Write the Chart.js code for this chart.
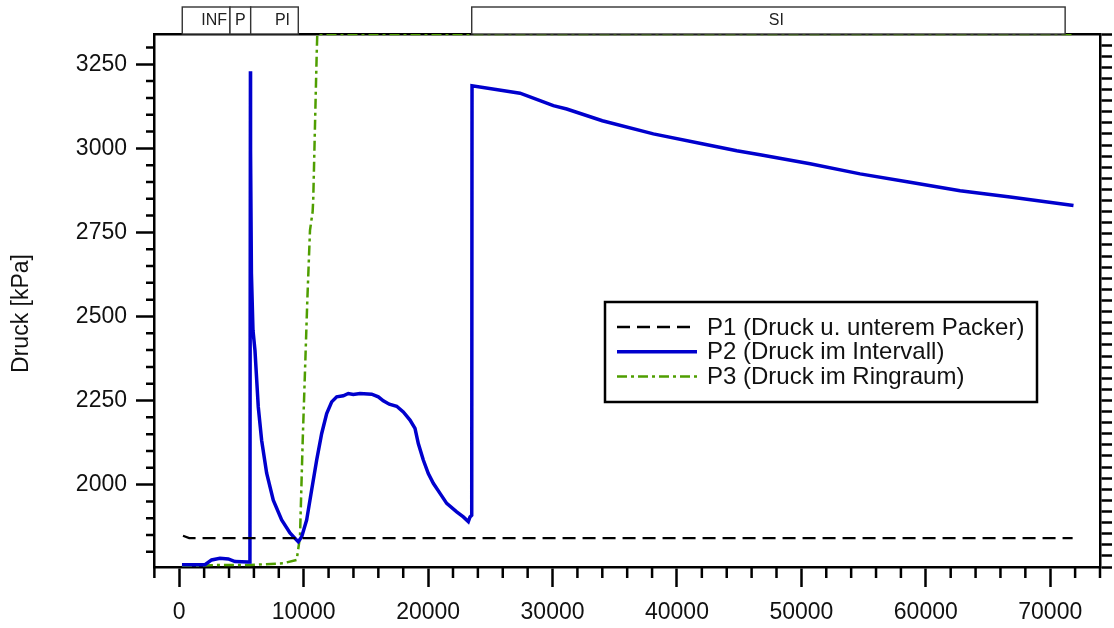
<!DOCTYPE html>
<html>
<head>
<meta charset="utf-8">
<script src="https://cdn.jsdelivr.net/npm/chart.js@4"></script>
<style>
  html, body { margin: 0; padding: 0; background: #fff; }
</style>
</head>
<body>
<canvas id="druckChart" width="1114" height="628"></canvas>
<script>
// Druckverlauf Packertest: P1, P2, P3 ueber der Zeit [s]

const p1Time = [300, 800, 71800];
const p1Druck = [1848, 1841, 1841];

const p2Time = [217, 2066, 2600, 3270, 3940, 4480, 5550, 5680, 5720, 5730, 5800, 5925, 6085, 6350,
  6620, 7025, 7556, 8231, 8899, 9437, 9566, 9840, 10240, 10640, 11045, 11447, 11849, 12250,
  12653, 13183, 13585, 13987, 14526, 15466, 15997, 16399, 16881, 17476, 18006, 18545, 18947,
  19212, 19614, 20016, 20418, 20957, 21495, 22299, 22830, 23232, 23368, 23505, 23530, 27387,
  28995, 30064, 31141, 34000, 38103, 42122, 44807, 46680, 50700, 54719, 58738, 62757, 66777, 71870];
const p2Druck = [1762, 1762, 1776, 1781, 1779, 1771, 1770, 1770, 3229, 2993, 2628, 2459, 2399, 2231,
  2132, 2034, 1954, 1895, 1856, 1835, 1830, 1845, 1895, 1984, 2073, 2152, 2211, 2246,
  2261, 2264, 2271, 2268, 2271, 2269, 2261, 2249, 2239, 2233, 2216, 2192, 2167,
  2122, 2073, 2033, 2004, 1974, 1944, 1919, 1904, 1890, 1904, 1909, 3186, 3164,
  3142, 3127, 3117, 3082, 3043, 3013, 2993, 2981, 2954, 2924, 2899, 2874, 2855, 2830];

const p3Time = [217, 3000, 5680, 8350, 9437, 9703, 9920, 10105, 10290, 10507, 10720, 10770, 10910, 11045, 11093, 71870];
const p3Druck = [1757, 1761, 1761, 1766, 1776, 1845, 2129, 2337, 2546, 2756, 2812, 2850, 3070, 3278, 3340, 3340];

const phaseLabels = ['INF', 'P', 'PI', 'SI'];
const phaseStart = [241, 4076, 5740, 23505];
const phaseEnd = [4076, 5740, 9566, 71198];

const xTickValues = [0, 10000, 20000, 30000, 40000, 50000, 60000, 70000];
const yTickValues = [2000, 2250, 2500, 2750, 3000, 3250];

const FONT = '"Liberation Sans", Arial, sans-serif';

function toPoints(xs, ys) {
  return xs.map((x, i) => ({ x: x, y: ys[i] }));
}

// kleine Teilstriche an x- und y-Achse
const minorTicks = {
  id: 'minorTicks',
  afterDraw(chart) {
    const { ctx, chartArea } = chart;
    const x = chart.scales.x;
    const y = chart.scales.y;
    ctx.save();
    ctx.strokeStyle = '#000';
    ctx.lineWidth = 2.5;
    ctx.beginPath();
    for (let v = Math.ceil(x.min / 2000) * 2000; v <= x.max; v += 2000) {
      if (v % 10000 === 0) continue;
      const px = x.getPixelForValue(v);
      ctx.moveTo(px, chartArea.bottom);
      ctx.lineTo(px, chartArea.bottom + 11);
    }
    for (let v = Math.ceil(y.min / 50) * 50; v <= y.max; v += 50) {
      if (v % 250 === 0) continue;
      const py = y.getPixelForValue(v);
      ctx.moveTo(chartArea.left, py);
      ctx.lineTo(chartArea.left - 8, py);
    }
    ctx.stroke();
    ctx.restore();
  }
};

// Phasenbalken oberhalb des Diagramms
const phaseBands = {
  id: 'phaseBands',
  afterDraw(chart) {
    const { ctx, chartArea } = chart;
    const x = chart.scales.x;
    const top = chartArea.top - 27;
    ctx.save();
    ctx.font = '16px ' + FONT;
    ctx.textBaseline = 'middle';
    phaseLabels.forEach((label, i) => {
      const x0 = x.getPixelForValue(phaseStart[i]);
      const x1 = x.getPixelForValue(phaseEnd[i]);
      ctx.fillStyle = '#fff';
      ctx.fillRect(x0, top, x1 - x0, 27);
      ctx.strokeStyle = '#333';
      ctx.lineWidth = 1.4;
      ctx.strokeRect(x0, top, x1 - x0, 27);
      ctx.save();
      ctx.beginPath();
      ctx.rect(x0 + 1, top, x1 - x0 - 2, 27);
      ctx.clip();
      const w = x1 - x0;
      const cx = w > 30 ? (x0 + x1) / 2 + 8 : (x0 + x1) / 2;
      ctx.fillStyle = '#222';
      ctx.textAlign = 'center';
      ctx.fillText(label, cx, top + 14);
      ctx.restore();
    });
    ctx.restore();
  }
};

// Legende mit Rahmen im Diagramm
const legendBox = {
  id: 'legendBox',
  afterDraw(chart) {
    const { ctx, chartArea } = chart;
    const left = chartArea.left + 451;
    const top = chartArea.top + 268;
    ctx.save();
    ctx.fillStyle = '#fff';
    ctx.fillRect(left, top, 432, 100);
    ctx.strokeStyle = '#000';
    ctx.lineWidth = 2.5;
    ctx.strokeRect(left, top, 432, 100);
    ctx.font = '24px ' + FONT;
    ctx.textBaseline = 'middle';
    chart.data.datasets.forEach((ds, i) => {
      const ly = top + 25 + i * 24.7;
      ctx.beginPath();
      ctx.setLineDash(ds.borderDash || []);
      ctx.lineWidth = ds.borderWidth;
      ctx.strokeStyle = ds.borderColor;
      ctx.moveTo(left + 12, ly);
      ctx.lineTo(left + 92, ly);
      ctx.stroke();
      ctx.setLineDash([]);
      ctx.fillStyle = '#111';
      ctx.fillText(ds.label, left + 102, ly + 1);
    });
    ctx.restore();
  }
};

// y-Achsentitel
const yTitle = {
  id: 'yTitle',
  afterDraw(chart) {
    const { ctx, chartArea } = chart;
    ctx.save();
    ctx.translate(22, (chartArea.top + chartArea.bottom) / 2 + 13);
    ctx.rotate(-Math.PI / 2);
    ctx.font = '23px ' + FONT;
    ctx.fillStyle = '#111';
    ctx.textAlign = 'center';
    ctx.textBaseline = 'middle';
    ctx.fillText('Druck [kPa]', 0, 0);
    ctx.restore();
  }
};

const ctx = document.getElementById('druckChart').getContext('2d');

new Chart(ctx, {
  type: 'line',
  data: {
    datasets: [
      {
        label: 'P1 (Druck u. unterem Packer)',
        data: toPoints(p1Time, p1Druck),
        borderColor: '#000',
        borderWidth: 2.3,
        borderDash: [13, 7],
        pointRadius: 0,
        tension: 0
      },
      {
        label: 'P2 (Druck im Intervall)',
        data: toPoints(p2Time, p2Druck),
        borderColor: '#0000cd',
        borderWidth: 3.5,
        pointRadius: 0,
        tension: 0
      },
      {
        label: 'P3 (Druck im Ringraum)',
        data: toPoints(p3Time, p3Druck),
        borderColor: '#4f9e00',
        borderWidth: 2.5,
        borderDash: [10, 4, 3, 4],
        pointRadius: 0,
        tension: 0
      }
    ]
  },
  options: {
    responsive: false,
    animation: false,
    layout: {
      autoPadding: false,
      padding: { left: 0, top: 34, right: 0, bottom: 0 }
    },
    plugins: {
      legend: { display: false },
      tooltip: { enabled: false }
    },
    scales: {
      x: {
        type: 'linear',
        position: 'bottom',
        min: -2030,
        max: 74000,
        afterBuildTicks: function(scale) {
          scale.ticks = xTickValues.map(v => ({ value: v }));
        },
        afterFit: function(scale) { scale.height = 61; },
        border: { color: '#000', width: 2.5 },
        grid: {
          drawOnChartArea: false,
          tickLength: 20,
          tickWidth: 2.5,
          tickColor: '#000'
        },
        ticks: {
          maxRotation: 0,
          autoSkip: false,
          padding: 12,
          color: '#111',
          font: { family: FONT, size: 23 },
          callback: function(value) { return String(value); }
        }
      },
      x2: {
        type: 'linear',
        position: 'top',
        min: -2030,
        max: 74000,
        afterFit: function(scale) { scale.height = 0; },
        border: { color: '#000', width: 2.5 },
        grid: { drawOnChartArea: false, drawTicks: false },
        ticks: { display: false }
      },
      y: {
        position: 'left',
        min: 1755,
        max: 3340,
        afterBuildTicks: function(scale) {
          scale.ticks = yTickValues.map(v => ({ value: v }));
        },
        afterFit: function(scale) { scale.width = 154; },
        border: { color: '#000', width: 2.5 },
        grid: {
          drawOnChartArea: false,
          tickLength: 18,
          tickWidth: 2.5,
          tickColor: '#000'
        },
        ticks: {
          autoSkip: false,
          padding: 9,
          color: '#111',
          font: { family: FONT, size: 23 },
          callback: function(value) { return String(value); }
        }
      },
      y2: {
        position: 'right',
        min: 0,
        max: 48,
        afterFit: function(scale) { scale.width = 14; },
        border: { color: '#000', width: 2.5 },
        grid: {
          drawOnChartArea: false,
          tickLength: 12,
          tickWidth: 2.5,
          tickColor: '#000'
        },
        ticks: { stepSize: 1, display: false }
      }
    }
  },
  plugins: [minorTicks, phaseBands, legendBox, yTitle]
});
</script>
</body>
</html>
